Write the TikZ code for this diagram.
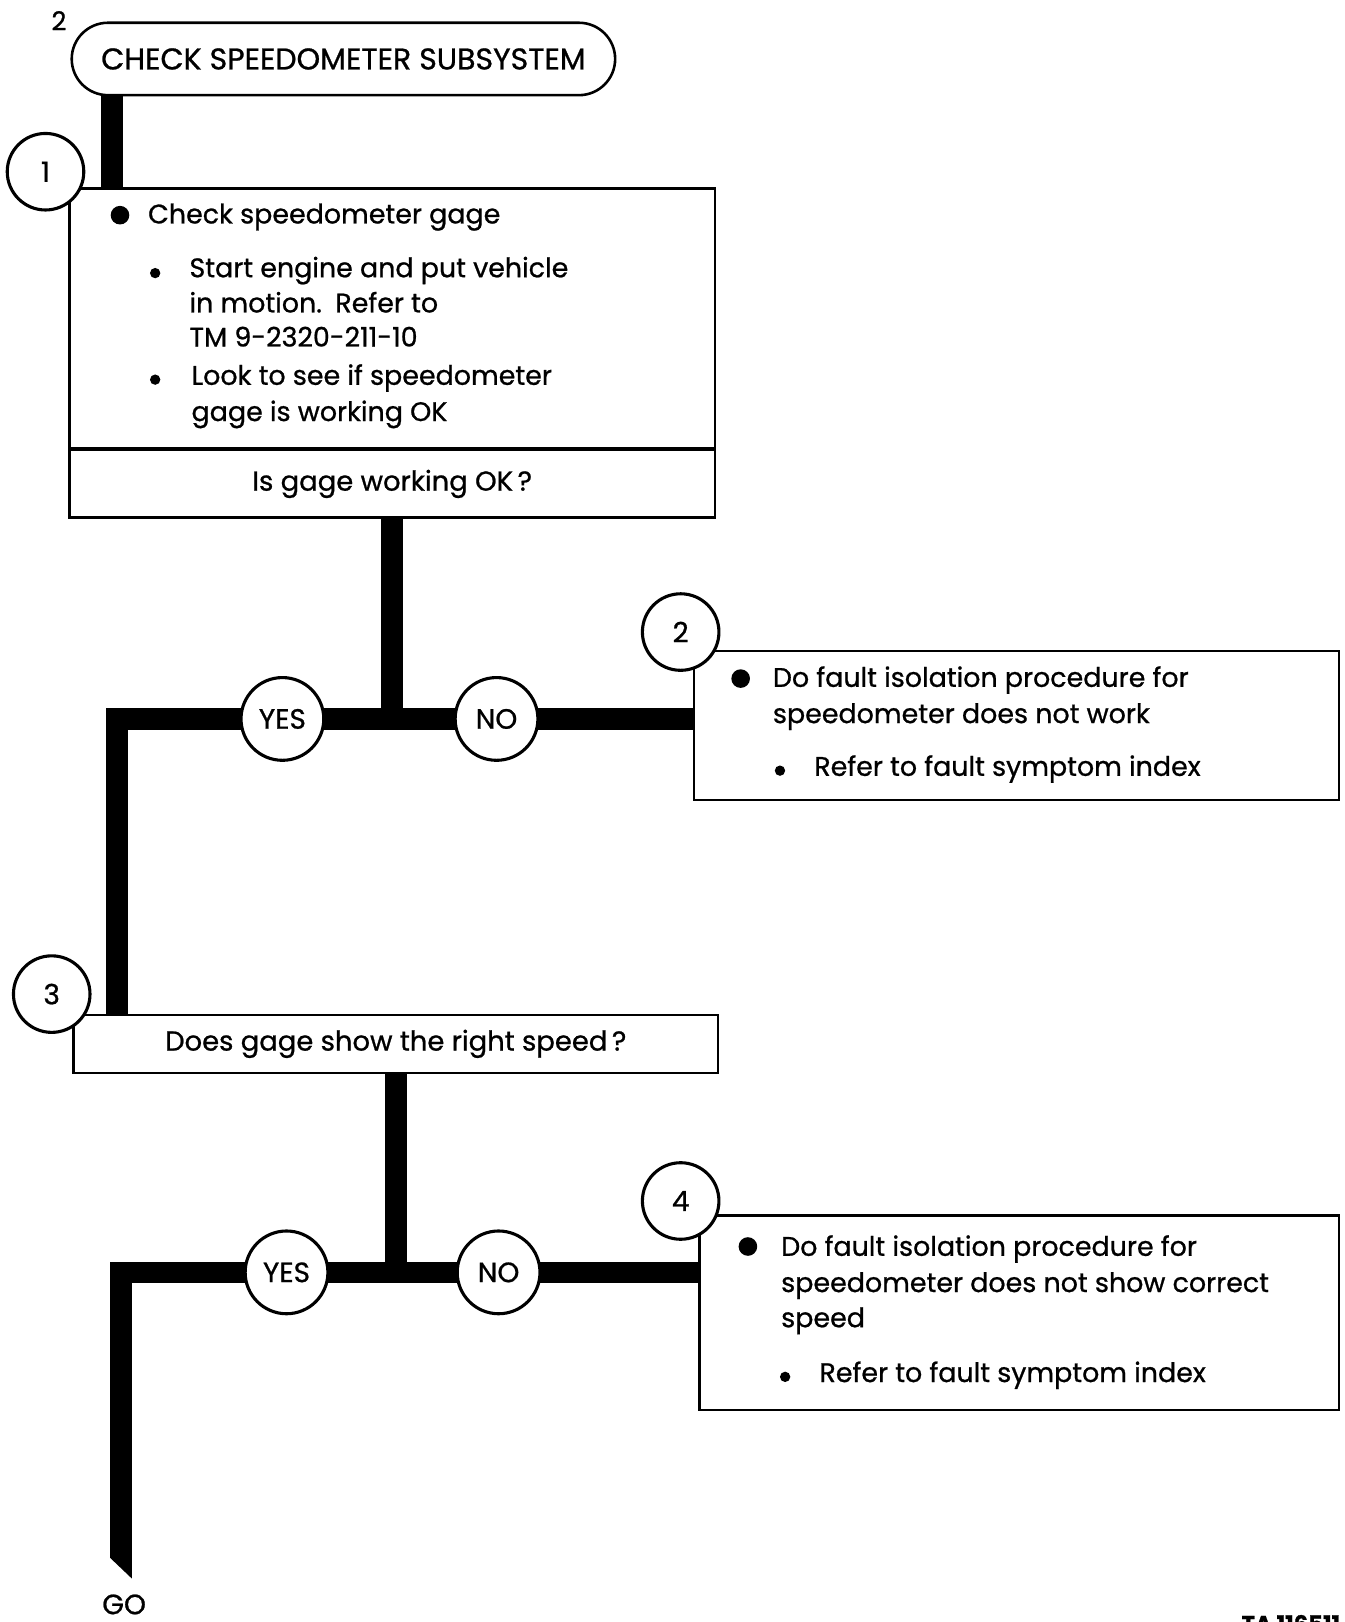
\documentclass[tikz,border=0pt]{standalone}
\usepackage{fontspec}
\setmainfont{Poppins}[FakeBold=0.8]
\usetikzlibrary{shapes.misc, positioning}
\pgfdeclarelayer{background}
\pgfsetlayers{background,main}

\tikzset{
  flowbar/.style={line width=21pt, line join=miter, line cap=butt},
  stepbox/.style={draw, fill=white, line width=2.2pt, inner sep=0pt, font=\fontsize{26.5}{31}\selectfont},
  stepnum/.style={circle, draw, fill=white, line width=3pt, minimum size=74pt, inner sep=0pt, font=\fontsize{27}{31}\selectfont},
  answer/.style={stepnum, minimum size=80pt},
  bodytext/.style={anchor=base west, inner sep=0pt, font=\fontsize{26}{31}\selectfont},
}

\begin{document}
\begin{tikzpicture}[x=1pt, y=-1pt]
  \useasboundingbox (0,0) rectangle (1300,1568);

  % Start
  \node[rounded rectangle, draw, fill=white, line width=2.5pt, minimum width=532pt,
        minimum height=70pt, font=\fontsize{29}{34}\selectfont] (start) at (332,57) {CHECK SPEEDOMETER SUBSYSTEM};
  \node[font=\fontsize{25}{29}\selectfont] (pagenum) at (57,20) {2};

  % Step 1: check gage
  \node[stepbox, minimum width=624pt, minimum height=251pt, anchor=north west] (chk) at (66,181) {};
  \node[stepbox, minimum width=624pt, minimum height=65pt, anchor=north] (q1) at (chk.south) {Is gage working OK\,?};
  \foreach \x/\y/\txt in {
    143/216/{Check speedometer gage},
    183/268/{Start engine and put vehicle},
    183/302/{in motion.\enspace Refer to},
    183/335/{TM 9-2320-211-10},
    185/372/{Look to see if speedometer},
    185/407/{gage is working OK}} {
    \node[bodytext] (a\y) at (\x,\y) {\txt};
  }
  \foreach \x/\y/\r in {116/208/9, 150/264/5, 150/367/5}
    \fill (\x,\y) circle (\r pt);

  % Step 2: gage does not work
  \node[stepbox, minimum width=623pt, minimum height=144pt, anchor=north west] (fail1) at (670,628) {};
  \foreach \x/\y/\txt in {
    747/664/{Do fault isolation procedure for},
    747/699/{speedometer does not work},
    787/750/{Refer to fault symptom index}} {
    \node[bodytext] (b\y) at (\x,\y) {\txt};
  }
  \foreach \x/\y/\r in {716/656/9, 754/745/5}
    \fill (\x,\y) circle (\r pt);

  % Step 3: right speed
  \node[stepbox, minimum width=623pt, minimum height=56pt, anchor=north west] (q2) at (70,980) {Does gage show the right speed\,?};

  % Step 4: wrong speed
  \node[stepbox, minimum width=618pt, minimum height=188pt, anchor=north west] (fail2) at (675,1174) {};
  \foreach \x/\y/\txt in {
    755/1214/{Do fault isolation procedure for},
    755/1249/{speedometer does not show correct},
    755/1283/{speed},
    792/1336/{Refer to fault symptom index}} {
    \node[bodytext] (c\y) at (\x,\y) {\txt};
  }
  \foreach \x/\y/\r in {723/1205/9, 759/1331/5}
    \fill (\x,\y) circle (\r pt);

  % Step numbers and answers
  \node[stepnum] (n1) at (44,166) {1};
  \node[stepnum] (n2) at (658,611) {2};
  \node[stepnum] (n3) at (50,961) {3};
  \node[stepnum] (n4) at (658,1161) {4};
  \node[answer] (yes1) at (273,695) {YES};
  \node[answer] (no1) at (480,695) {NO};
  \node[answer] (yes2) at (277,1230) {YES};
  \node[answer] (no2) at (482,1230) {NO};

  \node[font=\fontsize{27}{31}\selectfont] (golabel) at (120,1551) {GO};
  \node[anchor=north west, inner sep=0pt, font=\bfseries\fontsize{22}{26}\selectfont] (tanum) at (1200,1561) {TA 116511};

  % Flow lines
  \begin{pgfonlayer}{background}
    \draw[flowbar] (chk.north west) ++(42,0) coordinate (d1) -- (d1 |- start.south);
    \draw[flowbar] (q1.south) -- (q1.south |- yes1.center);
    \coordinate (c1) at (113,695);
    \draw[flowbar] (fail1.west |- no1.center) -- (c1) -- (c1 |- q2.north);
    \draw[flowbar] (q2.south) -- (q2.south |- yes2.center);
    \coordinate (c2) at (117,1230);
    \coordinate (go) at (117,1506);
    \draw[flowbar] (fail2.west |- no2.center) -- (c2) -- (go);
    \fill ([xshift=-10.5pt]go) -- ([xshift=10.5pt]go) -- ++(0,20) -- cycle;
  \end{pgfonlayer}
\end{tikzpicture}
\end{document}
